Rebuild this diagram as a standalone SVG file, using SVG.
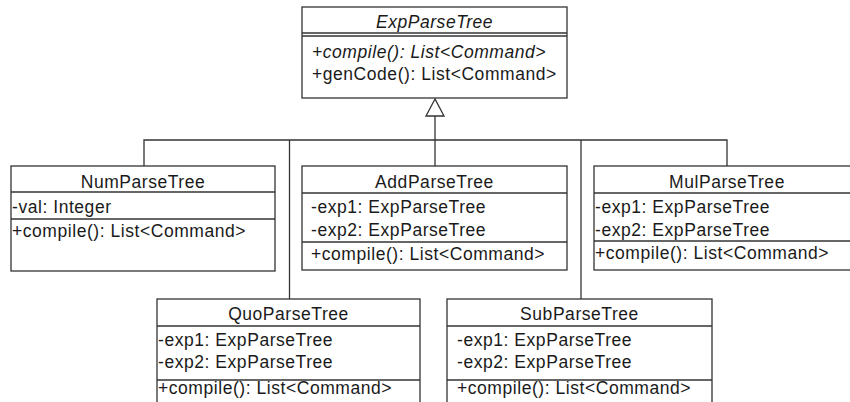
<svg xmlns="http://www.w3.org/2000/svg" width="850" height="402" viewBox="0 0 850 402">
  <style>
    .box { fill: #ffffff; stroke: #333333; stroke-width: 1.3; }
    .sep { stroke: #333333; stroke-width: 1.3; fill: none; }
    .wire { stroke: #333333; stroke-width: 1.3; fill: none; }
    text { font-family: "Liberation Sans", Arial, sans-serif; font-size: 17.5px; letter-spacing: 0.55px; fill: #1a1a1a; }
    .title { text-anchor: middle; }
    .abstract { font-style: italic; }
  </style>
  <defs>
    <polygon id="generalization" points="0,0 -9,17 9,17" fill="#ffffff" stroke="#333333" stroke-width="1.3"/>
  </defs>

  <!-- inheritance connectors -->
  <g id="connectors">
    <polyline class="wire" points="144,166 144,140 727,140 727,166"/>
    <line class="wire" x1="289.5" y1="140" x2="289.5" y2="299"/>
    <line class="wire" x1="581" y1="140" x2="581" y2="299"/>
    <line class="wire" x1="435" y1="116" x2="435" y2="166"/>
    <use href="#generalization" x="435" y="99"/>
  </g>

  <!-- abstract base class -->
  <g id="ExpParseTree">
    <rect class="box" x="302" y="7" width="265" height="91"/>
    <line class="sep" x1="302" y1="33" x2="567" y2="33"/>
    <line class="sep" x1="302" y1="36" x2="567" y2="36"/>
    <text class="title abstract" x="434.5" y="28">ExpParseTree</text>
    <text class="abstract" x="312" y="58">+compile(): List&lt;Command&gt;</text>
    <text x="312" y="80">+genCode(): List&lt;Command&gt;</text>
  </g>

  <g id="NumParseTree">
    <rect class="box" x="11" y="166" width="264" height="105"/>
    <line class="sep" x1="11" y1="192" x2="275" y2="192"/>
    <line class="sep" x1="11" y1="219" x2="275" y2="219"/>
    <text class="title" x="143" y="188">NumParseTree</text>
    <text x="12" y="213">-val: Integer</text>
    <text x="12" y="237">+compile(): List&lt;Command&gt;</text>
  </g>

  <g id="AddParseTree">
    <rect class="box" x="302" y="166" width="265" height="104"/>
    <line class="sep" x1="302" y1="193" x2="567" y2="193"/>
    <line class="sep" x1="302" y1="242" x2="567" y2="242"/>
    <text class="title" x="434.5" y="188">AddParseTree</text>
    <text x="311" y="213">-exp1: ExpParseTree</text>
    <text x="311" y="236">-exp2: ExpParseTree</text>
    <text x="311" y="260">+compile(): List&lt;Command&gt;</text>
  </g>

  <g id="MulParseTree">
    <rect class="box" x="594" y="166" width="266" height="104"/>
    <line class="sep" x1="594" y1="193" x2="860" y2="193"/>
    <line class="sep" x1="594" y1="241" x2="860" y2="241"/>
    <text class="title" x="727" y="188">MulParseTree</text>
    <text x="595" y="213">-exp1: ExpParseTree</text>
    <text x="595" y="236">-exp2: ExpParseTree</text>
    <text x="595" y="259">+compile(): List&lt;Command&gt;</text>
  </g>

  <g id="QuoParseTree">
    <rect class="box" x="157" y="299" width="263" height="120"/>
    <line class="sep" x1="157" y1="326" x2="420" y2="326"/>
    <line class="sep" x1="157" y1="380" x2="420" y2="380"/>
    <text class="title" x="288.5" y="320">QuoParseTree</text>
    <text x="158" y="346">-exp1: ExpParseTree</text>
    <text x="158" y="368">-exp2: ExpParseTree</text>
    <text x="158" y="394">+compile(): List&lt;Command&gt;</text>
  </g>

  <g id="SubParseTree">
    <rect class="box" x="447" y="299" width="265" height="120"/>
    <line class="sep" x1="447" y1="326" x2="712" y2="326"/>
    <line class="sep" x1="447" y1="380" x2="712" y2="380"/>
    <text class="title" x="579.5" y="320">SubParseTree</text>
    <text x="457" y="346">-exp1: ExpParseTree</text>
    <text x="457" y="368">-exp2: ExpParseTree</text>
    <text x="457" y="394">+compile(): List&lt;Command&gt;</text>
  </g>
</svg>
